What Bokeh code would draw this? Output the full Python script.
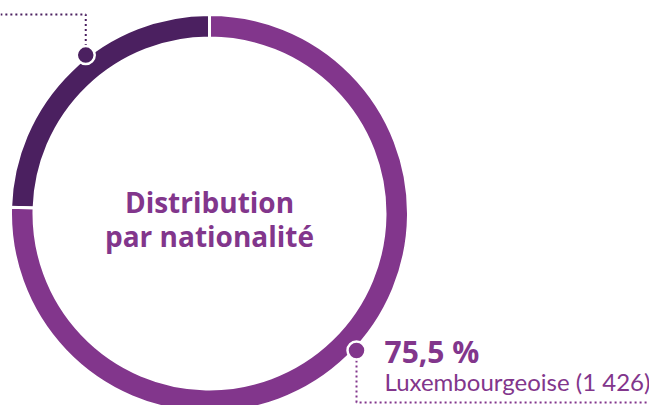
import math
from bokeh.plotting import figure
from bokeh.models import Range1d, ColumnDataSource
from bokeh.core.properties import value
from bokeh.embed import file_html
from bokeh.resources import INLINE

# ---- data ----
categories = ["Autres nationalités", "Luxembourgeoise"]
shares = [24.5, 75.5]
counts = [463, 1426]
colors = ["#4B2060", "#82368C"]
pct_labels = ["24,5 %", "75,5 %"]
name_labels = ["Autres nationalités (463)", "Luxembourgeoise (1 426)"]
center_title = ["Distribution", "par nationalité"]
marker_angles = [128.0, -43.0]  # where the leader dot sits on the ring (degrees)

# ---- layout (screen px of the 649x405 picture) ----
W, H = 649, 405
CX, CY = 209, 213
R_OUT, R_IN = 199.0, 175.5
T_SHIFT = 9  # compensate text baseline offset


def Y(py):
    return H - py


p = figure(width=W, height=H, output_backend="svg", toolbar_location=None,
           x_range=Range1d(0, W), y_range=Range1d(0, H),
           min_border=0)
p.axis.visible = False
p.grid.visible = False
p.outline_line_color = None
p.background_fill_color = "white"

# ring segments
starts, ends = [], []
a = 90.0
for s in shares:
    starts.append(math.radians(a))
    a += s / 100 * 360
    ends.append(math.radians(a))
src = ColumnDataSource(dict(start=starts, end=ends, color=colors))
p.annular_wedge(x=CX, y=Y(CY), inner_radius=R_IN, outer_radius=R_OUT,
                start_angle="start", end_angle="end", direction="anticlock",
                fill_color="color", line_color="white", line_width=3, source=src)

# leader dots + dotted lines
R_DOT = 201
dot_xy = []
for ang in marker_angles:
    dx = CX + R_DOT * math.cos(math.radians(ang))
    dy = CY - R_DOT * math.sin(math.radians(ang))
    dot_xy.append((dx, dy))

# dark (top-left) leader: up, then left
(dx0, dy0) = dot_xy[0]
p.line([dx0, dx0, 0], [Y(dy0 - 9), Y(14), Y(14)], line_color=colors[0],
       line_width=2, line_dash="2 3")
# light (bottom-right) leader: down, then right
(dx1, dy1) = dot_xy[1]
p.line([dx1, dx1, W], [Y(dy1 + 10), Y(402), Y(402)], line_color=colors[1],
       line_width=2, line_dash="2 3")

for (dx, dy), col in zip(dot_xy, colors):
    p.circle(x=dx, y=Y(dy), radius=9, fill_color=col, line_color="white", line_width=2.5)

# center title
p.text(x=[CX, CX], y=[Y(210 - T_SHIFT), Y(244 - T_SHIFT)], text=center_title,
       text_font=value("Open Sans"), text_font_style="bold", text_font_size="28px",
       text_color=colors[1], text_align="center", text_baseline="alphabetic")

# Luxembourgeoise label
p.text(x=[384], y=[Y(360 - T_SHIFT)], text=[pct_labels[1]], text_font=value("Open Sans"),
       text_font_style="bold", text_font_size="30px", text_color=colors[1],
       text_align="left", text_baseline="alphabetic")
p.text(x=[384], y=[Y(390 - T_SHIFT)], text=[name_labels[1]], text_font=value("Lato"),
       text_font_size="24px", text_color=colors[1],
       text_align="left", text_baseline="alphabetic")

open("out.html", "w").write(file_html(p, INLINE))
